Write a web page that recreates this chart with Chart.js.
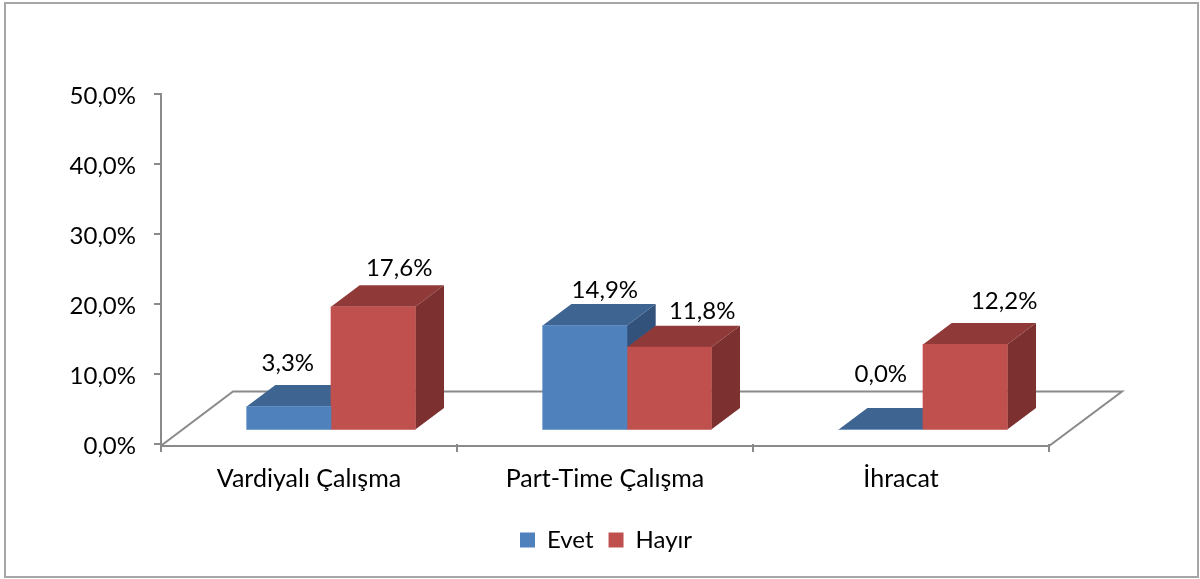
<!DOCTYPE html>
<html>
<head>
<meta charset="utf-8">
<style>
html,body{margin:0;padding:0;background:#fff;overflow:hidden}
#wrap{width:1200px;height:579px}
</style>
<script src="https://cdn.jsdelivr.net/npm/chart.js@4"></script>
</head>
<body>
<div id="wrap"><canvas id="c" width="1200" height="579"></canvas></div>
<script>
const categories = ['Vardiyalı Çalışma', 'Part-Time Çalışma', 'İhracat'];
const evet = [3.3, 14.9, 0.0];
const hayir = [17.6, 11.8, 12.2];
const evetLabelNudge = [[-1, 22], [20, 14], [0, 34]];
const hayirLabelNudge = [[26, 17], [33, 14], [39, 22]];

const FONT = 'Lato, Carlito, Calibri, sans-serif';
const FONT_SIZE = 24;
const DEPTH_X = 28.7, DEPTH_Y = 21.5;
const BAR_W = 84.3;
const AXIS = '#8a8a8a';
const faces = [
  {front:'#4F81BD', top:'#3E6592', side:'#32527C'},
  {front:'#C0504D', top:'#8F3A38', side:'#7C3030'}
];
const fmt = v => v.toFixed(1).replace('.', ',') + '%';

function poly(ctx, pts, fill){
  ctx.beginPath();
  pts.forEach((p,i)=> i ? ctx.lineTo(p[0],p[1]) : ctx.moveTo(p[0],p[1]));
  ctx.closePath();
  ctx.fillStyle = fill;
  ctx.fill();
}

const scene3d = {
  id:'scene3d',
  afterLayout(chart){
    // centre the legend under the whole plot including its 3D depth
    chart.legend.left = 0;
    chart.legend.right = 1212;
  },
  beforeDraw(chart){
    const {ctx, width, height} = chart;
    ctx.save();
    ctx.fillStyle = '#fff';
    ctx.fillRect(0,0,width,height);
    ctx.strokeStyle = '#a6a6a6';
    ctx.lineWidth = 2;
    ctx.strokeRect(5,3,1193,574);
    ctx.restore();
  },
  beforeDatasetsDraw(chart){
    const {ctx, chartArea:a} = chart;
    ctx.save();
    ctx.strokeStyle = AXIS;
    ctx.lineWidth = 2;
    ctx.beginPath();
    ctx.moveTo(a.left+1, a.bottom+1);
    ctx.lineTo(a.left+72, a.bottom-52.5);
    ctx.lineTo(a.right+73, a.bottom-52.5);
    ctx.lineTo(a.right, a.bottom+2);
    ctx.lineTo(a.left, a.bottom+2);
    ctx.stroke();
    chart.data.datasets.forEach((ds,i)=>{
      chart.getDatasetMeta(i).data.forEach(bar=>{
        const half = bar.width/2, l = bar.x-half, r = bar.x+half, t = bar.y, b = bar.base;
        poly(ctx, [[r,t],[r+DEPTH_X,t-DEPTH_Y],[r+DEPTH_X,b-DEPTH_Y],[r,b]], faces[i].side);
        poly(ctx, [[l,t],[l+DEPTH_X,t-DEPTH_Y],[r+DEPTH_X,t-DEPTH_Y],[r,t]], faces[i].top);
      });
    });
    ctx.restore();
  },
  afterDatasetsDraw(chart){
    const {ctx} = chart;
    const nudges = [evetLabelNudge, hayirLabelNudge];
    ctx.save();
    ctx.font = FONT_SIZE + 'px ' + FONT;
    ctx.fillStyle = '#000';
    ctx.textAlign = 'center';
    ctx.textBaseline = 'middle';
    chart.data.datasets.forEach((ds,i)=>{
      chart.getDatasetMeta(i).data.forEach((bar,j)=>{
        const n = nudges[i][j];
        ctx.fillText(fmt(ds.data[j].y), bar.x+n[0], bar.y-DEPTH_Y-n[1]);
      });
    });
    ctx.restore();
  }
};

new Chart(document.getElementById('c'), {
  type:'bar',
  data:{
    labels:categories,
    datasets:[
      {label:'Evet', data:evet.map((y,x)=>({x,y})), backgroundColor:faces[0].front, xAxisID:'xBar', yAxisID:'yBar', barThickness:BAR_W},
      {label:'Hayır', data:hayir.map((y,x)=>({x,y})), backgroundColor:faces[1].front, xAxisID:'xBar', yAxisID:'yBar', barThickness:BAR_W}
    ]
  },
  plugins:[scene3d],
  options:{
    responsive:false,
    animation:false,
    layout:{padding:{top:94,right:151,left:0,bottom:17}},
    plugins:{
      tooltip:{enabled:false},
      legend:{
        position:'bottom',
        align:'center',
        labels:{boxWidth:15, boxHeight:15, padding:15, color:'#000', font:{family:FONT,size:FONT_SIZE}}
      }
    },
    scales:{
      x:{
        type:'category', position:'bottom', offset:true,
        afterFit(s){ s.height = 69; },
        border:{display:false},
        grid:{display:true, drawOnChartArea:false, drawTicks:true, tickLength:8, offset:true, color:AXIS, lineWidth:2},
        ticks:{color:'#000', font:{family:FONT,size:25}, padding:12, maxRotation:0}
      },
      y:{
        type:'linear', position:'left', min:0, max:50,
        afterFit(s){ s.width = 161; },
        border:{display:true, color:AXIS, width:2},
        grid:{display:true, drawOnChartArea:false, drawTicks:true, tickLength:7, color:AXIS, lineWidth:2},
        ticks:{stepSize:10, color:'#000', font:{family:FONT,size:FONT_SIZE}, padding:18, labelOffset:2, callback:v=>fmt(v)}
      },
      xBar:{type:'linear', display:false, min:-0.5743, max:2.4257, offset:false},
      yBar:{type:'linear', display:false, min:-2.08, max:48.1}
    }
  }
});
</script>
</body>
</html>
